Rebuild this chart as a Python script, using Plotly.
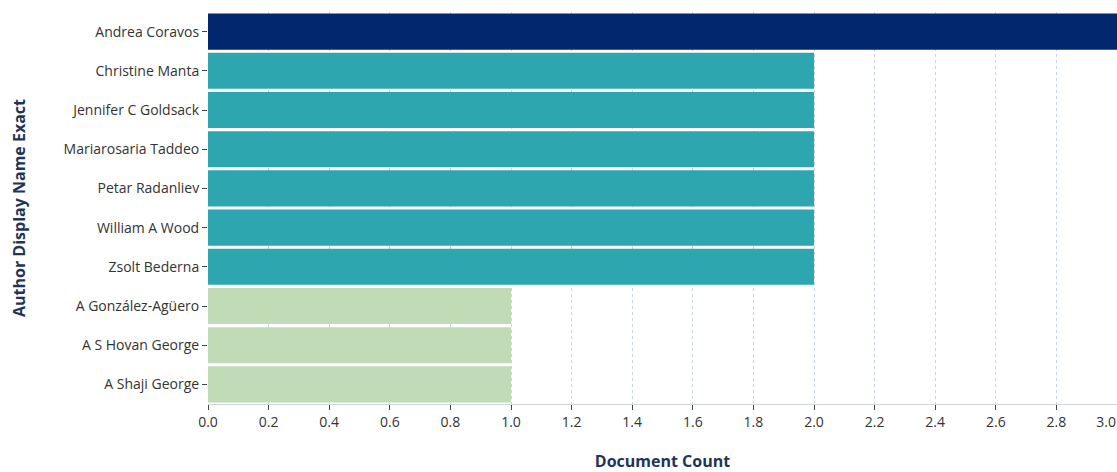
import plotly.graph_objects as go

authors = ["Andrea Coravos", "Christine Manta", "Jennifer C Goldsack", "Mariarosaria Taddeo",
           "Petar Radanliev", "William A Wood", "Zsolt Bederna", "A González-Agüero",
           "A S Hovan George", "A Shaji George"]
counts = [3, 2, 2, 2, 2, 2, 2, 1, 1, 1]
color_by_count = {3: "#03276e", 2: "#2ea6b0", 1: "#c1dbb7"}
tick_vals = [0.0, 0.2, 0.4, 0.6, 0.8, 1.0, 1.2, 1.4, 1.6, 1.8, 2.0, 2.2, 2.4, 2.6, 2.8, 3.0]

# last label padded so it stays inside the page edge (flush like the reference)
tick_text = [f"{v:.1f}" for v in tick_vals]
tick_text[-1] = tick_text[-1] + "\u00a0" * 6

fig = go.Figure(go.Bar(
    x=counts, y=authors, orientation="h",
    marker=dict(color=[color_by_count[c] for c in counts], line=dict(width=0)),
))

fig.update_layout(
    width=1117, height=472,
    margin=dict(l=208, r=0, t=12, b=68),
    plot_bgcolor="white", paper_bgcolor="white",
    bargap=0.08,
    font=dict(family="Open Sans", size=14, color="#333333"),
    showlegend=False,
)
fig.update_xaxes(
    range=[0, 3.0], tickvals=tick_vals, ticktext=tick_text,
    ticklabeloverflow="allow", automargin=False,
    showgrid=True, gridcolor="#c9d3e0", griddash="3px,3px", gridwidth=1,
    zeroline=False, showline=True, linecolor="#d0d5dc", linewidth=1,
    ticks="outside", ticklen=5, tickcolor="#444444",
    title=dict(text="<b>Document Count</b>", font=dict(size=16, color="#1d3557"), standoff=31),
)
fig.update_yaxes(
    categoryorder="array", categoryarray=authors, autorange="reversed",
    automargin=False,
    showgrid=False, zeroline=False, showline=False,
    ticks="outside", ticklen=5, tickcolor="#444444",
    title=dict(text="<b>Author Display Name Exact</b>", font=dict(size=16, color="#1d3557"), standoff=34),
)

post = """
document.documentElement.style.margin='0';
document.documentElement.style.padding='0';
document.body.style.margin='0';
document.body.style.padding='0';
document.body.style.overflow='hidden';
var gd = document.getElementById('{plot_id}');
gd.style.width='1117px'; gd.style.height='472px';
Plotly.relayout(gd, {width: 1117, height: 472});
"""
fig.write_html("out.html", post_script=post,
               config={"responsive": False, "displayModeBar": False})
